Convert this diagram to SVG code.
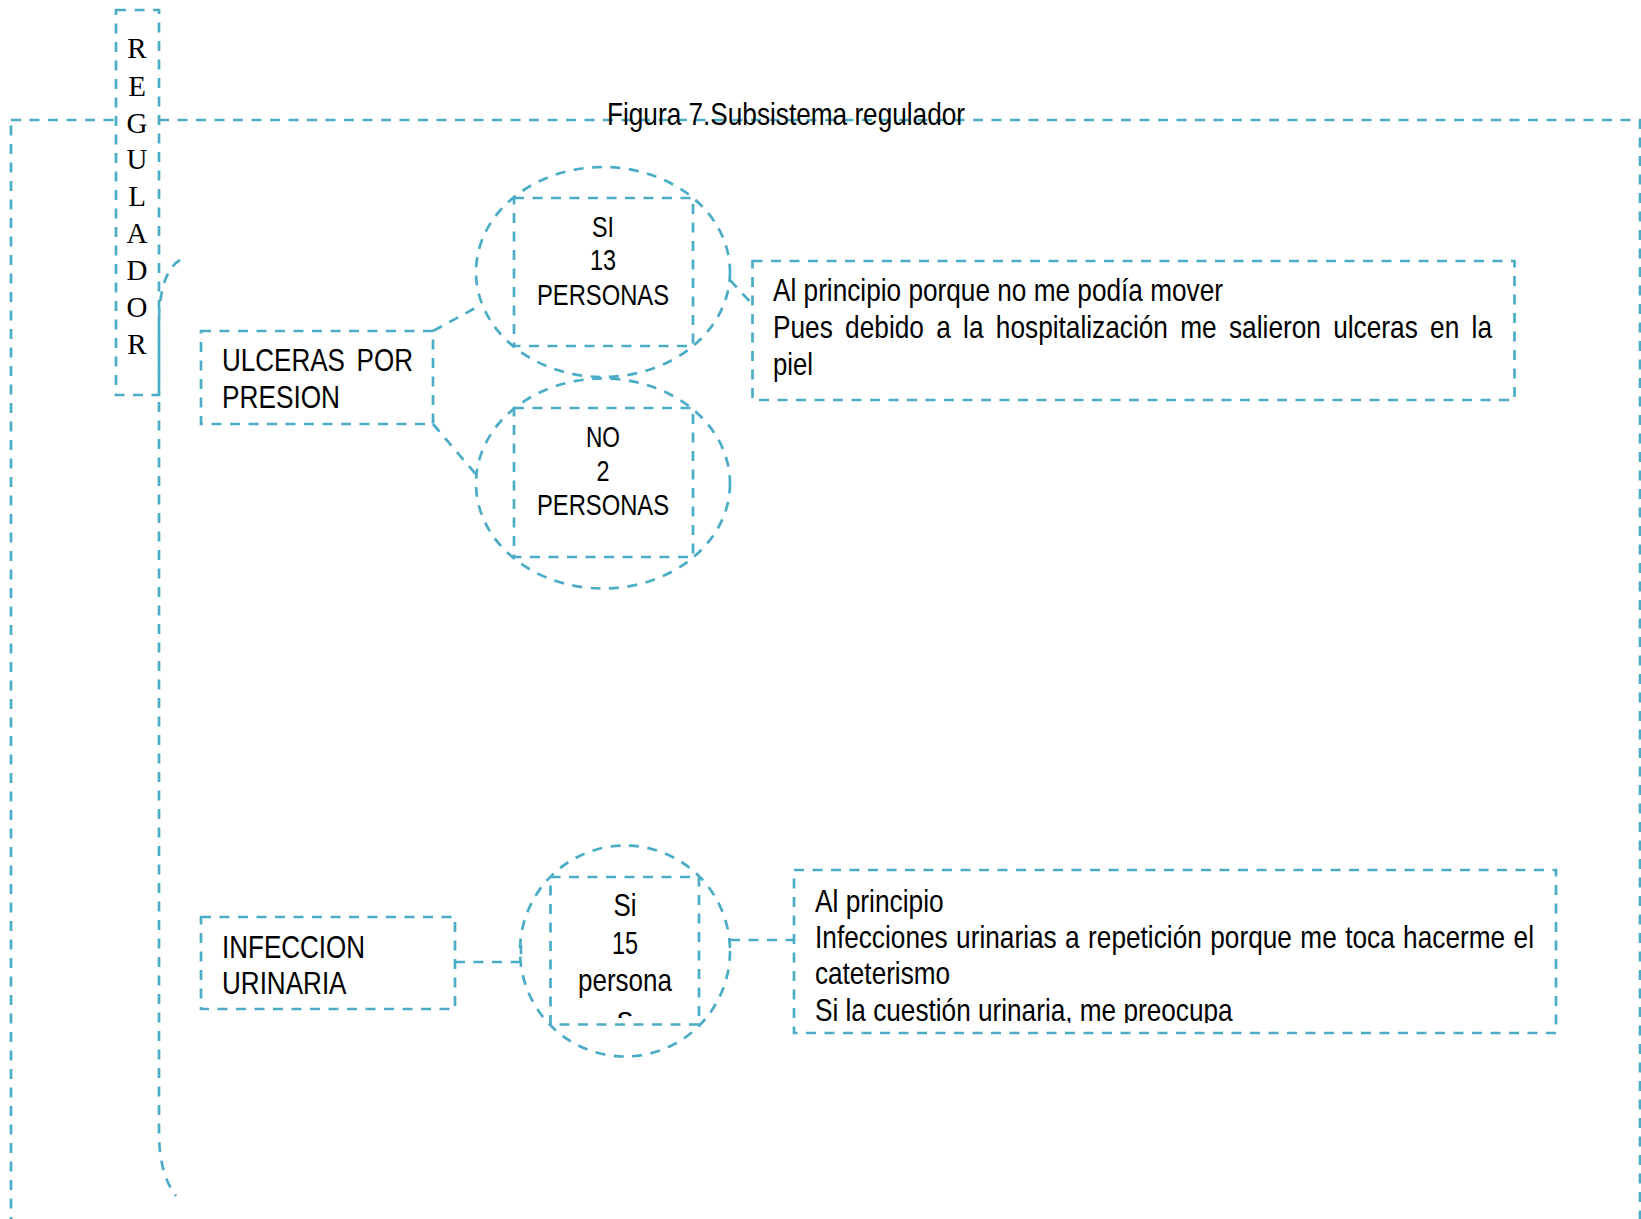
<svg xmlns="http://www.w3.org/2000/svg" width="1641" height="1219" viewBox="0 0 1641 1219">
<style>
.d{fill:none;stroke:#4bacc6;stroke-width:2.7;stroke-dasharray:10 8.5}
.w{fill:#fff;stroke:#4bacc6;stroke-width:2.7;stroke-dasharray:10 8.5}
.t{font-family:"Liberation Sans",Arial,sans-serif;font-size:32px;fill:#000}
.c{font-family:"Liberation Sans",Arial,sans-serif;font-size:29px;fill:#000;text-anchor:middle}
.s{font-family:"Liberation Serif","Times New Roman",serif;font-size:29px;fill:#000;text-anchor:middle}
</style>
<defs>
<clipPath id="clipB"><rect x="794" y="990" width="762" height="33"/></clipPath>
<clipPath id="clipC"><rect x="551" y="998" width="148" height="20"/></clipPath>
</defs>
<rect width="1641" height="1219" fill="#fff"/>
<g id="frame">
<rect class="d" x="11" y="120" width="1629" height="1200"/>
</g>
<g id="title">
<text class="t" x="607" y="125" font-size="30" textLength="358" lengthAdjust="spacingAndGlyphs">Figura 7.Subsistema regulador</text>
</g>
<g id="regulador">
<rect class="w" x="116" y="10" width="43" height="385"/>
<text class="s" x="137" y="58">R</text>
<text class="s" x="137" y="96">E</text>
<text class="s" x="137" y="133">G</text>
<text class="s" x="137" y="169">U</text>
<text class="s" x="137" y="206">L</text>
<text class="s" x="137" y="243">A</text>
<text class="s" x="137" y="280">D</text>
<text class="s" x="137" y="317">O</text>
<text class="s" x="137" y="354">R</text>
</g>
<g id="bracket">
<path class="d" d="M180,260 C166,268 159,292 159,322 V1133 C159,1160 165,1182 176,1196"/>
</g>
<g id="connectors">
<path class="d" d="M433,331 L479,306"/>
<path class="d" d="M433,424 L479,478"/>
<path class="d" d="M730,280 L752,304"/>
<path class="d" d="M455,962 H521 V945"/>
<path class="d" d="M730,940 H795"/>
</g>
<g id="ulceras">
<rect class="d" x="201" y="331" width="232" height="93"/>
<text class="t" x="222" y="371" word-spacing="5.5" textLength="191" lengthAdjust="spacingAndGlyphs">ULCERAS POR</text>
<text class="t" x="222" y="408" textLength="118" lengthAdjust="spacingAndGlyphs">PRESION</text>
</g>
<g id="si13">
<rect class="d" x="514" y="198" width="179" height="148"/>
<ellipse class="d" cx="603" cy="272" rx="127" ry="105"/>
<text class="c" x="603" y="237" textLength="22" lengthAdjust="spacingAndGlyphs">SI</text>
<text class="c" x="603" y="270" textLength="26" lengthAdjust="spacingAndGlyphs">13</text>
<text class="c" x="603" y="305" textLength="132" lengthAdjust="spacingAndGlyphs">PERSONAS</text>
</g>
<g id="no2">
<rect class="d" x="514" y="408" width="179" height="149"/>
<ellipse class="d" cx="603" cy="483.5" rx="127" ry="105"/>
<text class="c" x="603" y="447" textLength="34" lengthAdjust="spacingAndGlyphs">NO</text>
<text class="c" x="603" y="481" textLength="13" lengthAdjust="spacingAndGlyphs">2</text>
<text class="c" x="603" y="515" textLength="132" lengthAdjust="spacingAndGlyphs">PERSONAS</text>
</g>
<g id="quote1">
<rect class="d" x="752.5" y="261" width="762" height="139"/>
<text class="t" x="773" y="301" textLength="450" lengthAdjust="spacingAndGlyphs">Al principio porque no me podía mover</text>
<text class="t" x="773" y="338" word-spacing="6.1" textLength="719" lengthAdjust="spacingAndGlyphs">Pues debido a la hospitalización me salieron ulceras en la</text>
<text class="t" x="773" y="374.5" textLength="40" lengthAdjust="spacingAndGlyphs">piel</text>
</g>
<g id="infeccion">
<rect class="d" x="201" y="917" width="254" height="92"/>
<text class="t" x="222" y="957.5" textLength="143" lengthAdjust="spacingAndGlyphs">INFECCION</text>
<text class="t" x="222" y="994" textLength="124.5" lengthAdjust="spacingAndGlyphs">URINARIA</text>
</g>
<g id="si15">
<rect class="d" x="550.5" y="877" width="148.5" height="147.5"/>
<ellipse class="d" cx="625" cy="951" rx="105" ry="105.5"/>
<text class="t" x="625" y="916" text-anchor="middle" textLength="23" lengthAdjust="spacingAndGlyphs">Si</text>
<text class="t" x="625" y="954" text-anchor="middle" textLength="26" lengthAdjust="spacingAndGlyphs">15</text>
<text class="t" x="625" y="991" text-anchor="middle" textLength="94" lengthAdjust="spacingAndGlyphs">persona</text>
<g clip-path="url(#clipC)">
<text class="t" x="625" y="1028.5" text-anchor="middle">s</text>
</g>
</g>
<g id="quote2">
<rect class="d" x="794" y="870" width="762" height="163"/>
<text class="t" x="815" y="911.5" textLength="128.7" lengthAdjust="spacingAndGlyphs">Al principio</text>
<text class="t" x="815" y="947.5" word-spacing="1.35" textLength="719" lengthAdjust="spacingAndGlyphs">Infecciones urinarias a repetición porque me toca hacerme el</text>
<text class="t" x="815" y="984" textLength="135" lengthAdjust="spacingAndGlyphs">cateterismo</text>
<g clip-path="url(#clipB)">
<text class="t" x="815" y="1020.5" textLength="417.6" lengthAdjust="spacingAndGlyphs">Si la cuestión urinaria, me preocupa</text>
</g>
</g>
</svg>
